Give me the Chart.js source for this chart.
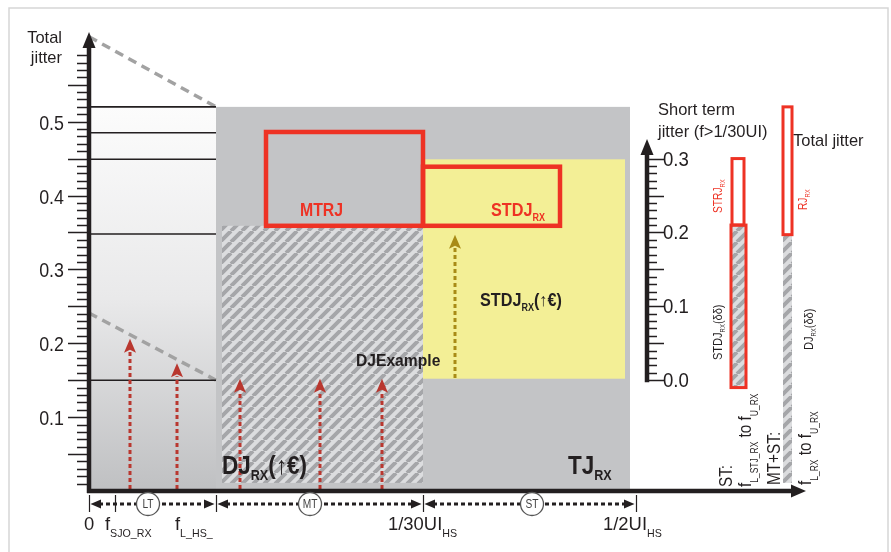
<!DOCTYPE html>
<html lang="en">
<head>
<meta charset="UTF-8">
<title>Jitter tolerance</title>
<script src="https://cdn.jsdelivr.net/npm/chart.js"></script>
<style>
  body { margin: 0; background: #fff; }
</style>
</head>
<body>
<canvas id="jitterChart" width="891" height="552"></canvas>
<script>
// frequency axis is in diagram units (0 = origin), jitter in UI
const bandNames = ['LT', 'MT', 'ST'];
const bandEdges = [0, 127, 334, 547];
const bandMarks = [59, 221, 443];
const freqTicks = [0, 26, 127, 334, 547];
const yTickLabels = [0.1, 0.2, 0.3, 0.4, 0.5];
const stTickLabels = [0.0, 0.1, 0.2, 0.3];

const ltLevels = [0.52, 0.485, 0.449, 0.348, 0.15];
const envelopeHigh = [0.615, 0.52];
const envelopeLow = [0.241, 0.15];

const tjArea = [127, 541, 0, 0.52];
const djArea = [133, 334, 0.011, 0.359];
const stdjArea = [334, 536, 0.152, 0.449];
const mtrjBox = [177, 334, 0.359, 0.486];
const stdjBox = [334, 471, 0.359, 0.439];

const ltArrowX = [41, 88];
const ltArrowTop = [0.206, 0.173];
const mtArrowX = [151, 231, 293];
const mtArrowTop = [0.152, 0.152, 0.152];
const stArrowX = [366];
const stArrowRange = [0.153, 0.347];

// right panel: short term scale and the total jitter column
const stAxisAt = 558;
const stdjBar = [642, 657, -0.01, 0.21];
const strjBar = [643, 655, 0.21, 0.3];
const tjColumn = [694, 703];
const djTotal = [0.011, 0.347];
const rjTotal = [0.347, 0.52];

const DARK = '#231f20';
const RED = '#ee3224';
const FONT = '"Liberation Sans", Arial, sans-serif';

function richText(ctx, x, y, parts, size, bold, color, align, subOff, sq) {
  const w = bold ? 'bold ' : '';
  const subSize = Math.round(size * 0.56);
  const off = size * (subOff || 0.25);
  const squeeze = sq || (bold ? 0.9 : 0.97);
  let total = 0;
  parts.forEach(p => {
    ctx.font = w + (p[1] ? subSize : size) + 'px ' + FONT;
    total += ctx.measureText(p[0]).width;
  });
  ctx.save();
  ctx.translate(x, y);
  ctx.scale(squeeze, 1);
  let cx = align === 'right' ? -total : align === 'center' ? -total / 2 : 0;
  ctx.fillStyle = color;
  ctx.textBaseline = 'alphabetic';
  ctx.textAlign = 'left';
  parts.forEach(p => {
    ctx.font = w + (p[1] ? subSize : size) + 'px ' + FONT;
    ctx.fillText(p[0], cx, p[1] ? off : 0);
    cx += ctx.measureText(p[0]).width;
  });
  ctx.restore();
}

function rotText(ctx, x, y, parts, size, color, subOff) {
  ctx.save();
  ctx.translate(x, y);
  ctx.rotate(-Math.PI / 2);
  richText(ctx, 0, 0, parts, size, false, color, 'left', subOff, 0.85);
  ctx.restore();
}

function hatch(ctx) {
  const s = 11;
  const c = document.createElement('canvas');
  c.width = s; c.height = s;
  const g = c.getContext('2d');
  g.fillStyle = '#dcdddf';
  g.fillRect(0, 0, s, s);
  g.strokeStyle = '#a5a6a9';
  g.lineWidth = 3.9;
  g.beginPath();
  for (let k = -s; k <= 2 * s; k += s) { g.moveTo(k, s); g.lineTo(k + s, 0); }
  g.stroke();
  return ctx.createPattern(c, 'repeat');
}

function dashedArrow(ctx, x, yFrom, yTip, color) {
  const head = 14, half = 6;
  ctx.save();
  ctx.strokeStyle = color;
  ctx.lineWidth = 3;
  ctx.setLineDash([4, 3]);
  ctx.beginPath(); ctx.moveTo(x, yFrom); ctx.lineTo(x, yTip + head - 1); ctx.stroke();
  ctx.setLineDash([]);
  ctx.fillStyle = color;
  ctx.beginPath();
  ctx.moveTo(x, yTip); ctx.lineTo(x - half, yTip + head); ctx.lineTo(x, yTip + head - 3); ctx.lineTo(x + half, yTip + head);
  ctx.closePath(); ctx.fill();
  ctx.restore();
}

function tri(ctx, pts) {
  ctx.beginPath();
  ctx.moveTo(pts[0], pts[1]); ctx.lineTo(pts[2], pts[3]); ctx.lineTo(pts[4], pts[5]);
  ctx.closePath(); ctx.fill();
}

const diagram = {
  id: 'diagram',
  beforeDatasetsDraw(chart) {
    const ctx = chart.ctx;
    const X = v => chart.scales.x.getPixelForValue(v);
    const Y = v => chart.scales.y.getPixelForValue(v);
    ctx.save();
    ctx.strokeStyle = '#d6d6d6'; ctx.lineWidth = 1.5;
    ctx.strokeRect(9, 8, 879, 570);

    // LT gradient
    const g = ctx.createLinearGradient(0, Y(ltLevels[0]), 0, Y(0));
    g.addColorStop(0, '#fcfcfc'); g.addColorStop(0.5, '#e9e9ea'); g.addColorStop(1, '#bfc0c2');
    ctx.fillStyle = g;
    ctx.fillRect(X(bandEdges[0]), Y(ltLevels[0]), X(bandEdges[1]) - X(bandEdges[0]), Y(0) - Y(ltLevels[0]));

    // total jitter area, short term area, hatched DJ
    ctx.fillStyle = '#c3c4c6';
    ctx.fillRect(X(tjArea[0]), Y(tjArea[3]), X(tjArea[1]) - X(tjArea[0]), Y(tjArea[2]) - Y(tjArea[3]));
    ctx.fillStyle = '#f3ef96';
    ctx.fillRect(X(stdjArea[0]), Y(stdjArea[3]), X(stdjArea[1]) - X(stdjArea[0]), Y(stdjArea[2]) - Y(stdjArea[3]));
    ctx.fillStyle = hatch(ctx);
    ctx.fillRect(X(djArea[0]), Y(djArea[3]), X(djArea[1]) - X(djArea[0]), Y(djArea[2]) - Y(djArea[3]));
    ctx.restore();
  },
  afterDatasetsDraw(chart) {
    const ctx = chart.ctx;
    const X = v => chart.scales.x.getPixelForValue(v);
    const Y = v => chart.scales.y.getPixelForValue(v);
    const Y2 = v => chart.scales.y2.getPixelForValue(v);
    ctx.save();

    // red boxes
    ctx.strokeStyle = RED; ctx.lineWidth = 4.5;
    [mtrjBox, stdjBox].forEach(b => {
      ctx.strokeRect(X(b[0]), Y(b[3]), X(b[1]) - X(b[0]), Y(b[2]) - Y(b[3]));
    });

    // arrows
    ltArrowX.forEach((v, i) => dashedArrow(ctx, X(v), Y(0) - 2, Y(ltArrowTop[i]), '#b9372f'));
    mtArrowX.forEach((v, i) => dashedArrow(ctx, X(v), Y(0) - 2, Y(mtArrowTop[i]), '#b9372f'));
    stArrowX.forEach(v => dashedArrow(ctx, X(v), Y(stArrowRange[0]), Y(stArrowRange[1]), '#a88b16'));

    // main axes
    ctx.strokeStyle = DARK; ctx.fillStyle = DARK; ctx.lineWidth = 4.5;
    ctx.beginPath();
    ctx.moveTo(X(0), Y(0) + 2); ctx.lineTo(X(0), Y(0.62) + 12);
    ctx.moveTo(X(0) - 2, Y(0)); ctx.lineTo(X(716) - 10, Y(0));
    ctx.stroke();
    tri(ctx, [X(0), Y(0.62) - 1, X(0) - 6.5, Y(0.62) + 15, X(0) + 6.5, Y(0.62) + 15]);
    tri(ctx, [X(716) + 1, Y(0), X(716) - 14, Y(0) - 6.5, X(716) - 14, Y(0) + 6.5]);

    ctx.lineWidth = 1.5;
    ctx.beginPath();
    for (let i = 1; i <= 59; i++) {
      const py = Math.round(Y(i / 100)) + 0.5;
      ctx.moveTo(X(0) - (i % 5 === 0 ? 21 : 12), py); ctx.lineTo(X(0), py);
    }
    ctx.stroke();
    yTickLabels.forEach(v => richText(ctx, X(0) - 25, Y(v) + 8, [[v.toFixed(1), 0]], 21, false, DARK, 'right', 0, 0.85));
    richText(ctx, 62, 43, [['Total', 0]], 17, false, DARK, 'right');
    richText(ctx, 62, 63, [['jitter', 0]], 17, false, DARK, 'right');

    // frequency band dimension lines
    const dy = Y(0) + 13;
    ctx.lineWidth = 1.2;
    ctx.beginPath();
    freqTicks.forEach(v => { ctx.moveTo(Math.round(X(v)) + 0.5, Y(0) + 4); ctx.lineTo(Math.round(X(v)) + 0.5, Y(0) + 21); });
    ctx.stroke();
    bandNames.forEach((name, i) => {
      const x0 = X(bandEdges[i]), x1 = X(bandEdges[i + 1]);
      ctx.save();
      ctx.lineWidth = 3; ctx.setLineDash([4, 3]);
      ctx.beginPath(); ctx.moveTo(x0 + 10, dy); ctx.lineTo(x1 - 10, dy); ctx.stroke();
      ctx.restore();
      tri(ctx, [x0 + 1.5, dy, x0 + 12, dy - 4.5, x0 + 12, dy + 4.5]);
      tri(ctx, [x1 - 1.5, dy, x1 - 12, dy - 4.5, x1 - 12, dy + 4.5]);
      const cx = X(bandMarks[i]);
      ctx.save();
      ctx.fillStyle = '#fff'; ctx.strokeStyle = '#555'; ctx.lineWidth = 1.3;
      ctx.beginPath(); ctx.arc(cx, dy, 11.5, 0, Math.PI * 2); ctx.fill(); ctx.stroke();
      ctx.restore();
      richText(ctx, cx, dy + 4, [[name, 0]], 12, false, '#444', 'center', 0, 0.85);
    });
    const lb = Y(0) + 39;
    richText(ctx, X(freqTicks[0]), lb, [['0', 0]], 19, false, DARK, 'center');
    richText(ctx, X(freqTicks[1]) - 10, lb, [['f', 0], ['SJO_RX', 1]], 19, false, DARK, 'left', 0.38);
    richText(ctx, X(freqTicks[2]) - 41, lb, [['f', 0], ['L_HS_', 1]], 19, false, DARK, 'left', 0.38);
    richText(ctx, X(freqTicks[3]) - 35, lb, [['1/30UI', 0], ['HS', 1]], 19, false, DARK, 'left', 0.38);
    richText(ctx, X(freqTicks[4]) - 33, lb, [['1/2UI', 0], ['HS', 1]], 19, false, DARK, 'left', 0.38);

    // region labels
    richText(ctx, 300, 216, [['MTRJ', 0]], 18, true, RED, 'left', 0, 0.88);
    richText(ctx, 491, 216, [['STDJ', 0], ['RX', 1]], 18, true, RED);
    richText(ctx, 480, 306, [['STDJ', 0], ['RX', 1], ['(\u2191\u20ac)', 0]], 18, true, DARK);
    richText(ctx, 356, 366, [['DJExample', 0]], 17, true, DARK, 'left', 0, 0.92);
    richText(ctx, 222, 474, [['DJ', 0], ['RX', 1], ['(\u2191\u20ac)', 0]], 25, true, DARK);
    richText(ctx, 568, 474, [['TJ', 0], ['RX', 1]], 25, true, DARK);

    // short term axis
    const sx = X(stAxisAt);
    ctx.lineWidth = 4.5;
    ctx.beginPath(); ctx.moveTo(sx, Y2(0) + 2); ctx.lineTo(sx, Y2(0.325) + 12); ctx.stroke();
    tri(ctx, [sx, Y2(0.325) - 1, sx - 6.5, Y2(0.325) + 15, sx + 6.5, Y2(0.325) + 15]);
    ctx.lineWidth = 1.5;
    ctx.beginPath();
    for (let i = 0; i <= 30; i++) {
      const py = Math.round(Y2(i / 100)) + 0.5;
      ctx.moveTo(sx, py); ctx.lineTo(sx + (i % 5 === 0 ? 17 : 10), py);
    }
    ctx.stroke();
    stTickLabels.forEach(v => richText(ctx, sx + 16, Y2(v) + 7, [[v.toFixed(1), 0]], 20, false, DARK, 'left', 0, 0.93));
    richText(ctx, 658, 115, [['Short term', 0]], 17, false, DARK);
    richText(ctx, 658, 137, [['jitter (f>1/30UI)', 0]], 17, false, DARK);
    richText(ctx, 793, 146, [['Total jitter', 0]], 17, false, DARK);

    // short term bars and total jitter column
    ctx.fillStyle = hatch(ctx);
    ctx.fillRect(X(stdjBar[0]), Y2(stdjBar[3]), X(stdjBar[1]) - X(stdjBar[0]), Y2(stdjBar[2]) - Y2(stdjBar[3]));
    ctx.fillRect(X(tjColumn[0]), Y(djTotal[1]), X(tjColumn[1]) - X(tjColumn[0]), Y(djTotal[0]) - Y(djTotal[1]));
    ctx.fillStyle = '#fff';
    ctx.fillRect(X(strjBar[0]), Y2(strjBar[3]), X(strjBar[1]) - X(strjBar[0]), Y2(strjBar[2]) - Y2(strjBar[3]));
    ctx.fillRect(X(tjColumn[0]), Y(rjTotal[1]), X(tjColumn[1]) - X(tjColumn[0]), Y(rjTotal[0]) - Y(rjTotal[1]));
    ctx.strokeStyle = RED; ctx.lineWidth = 3;
    ctx.strokeRect(X(stdjBar[0]), Y2(stdjBar[3]), X(stdjBar[1]) - X(stdjBar[0]), Y2(stdjBar[2]) - Y2(stdjBar[3]));
    ctx.strokeRect(X(strjBar[0]), Y2(strjBar[3]), X(strjBar[1]) - X(strjBar[0]), Y2(strjBar[2]) - Y2(strjBar[3]));
    ctx.strokeRect(X(tjColumn[0]), Y(rjTotal[1]), X(tjColumn[1]) - X(tjColumn[0]), Y(rjTotal[0]) - Y(rjTotal[1]));

    rotText(ctx, 722, 213, [['STRJ', 0], ['RX', 1]], 12, RED);
    rotText(ctx, 722, 360, [['STDJ', 0], ['RX', 1], ['(\u03b4\u03b4)', 0]], 13, DARK);
    rotText(ctx, 807, 210, [['RJ', 0], ['RX', 1]], 12, RED);
    rotText(ctx, 813, 350, [['DJ', 0], ['RX', 1], ['(\u03b4\u03b4)', 0]], 13, DARK);
    rotText(ctx, 732, 487, [['ST:', 0]], 18, DARK);
    rotText(ctx, 751, 487, [['f', 0], ['L_STJ_RX', 1], [' to f', 0], ['U_RX', 1]], 18, DARK, 0.38);
    rotText(ctx, 780, 485, [['MT+ST:', 0]], 18, DARK);
    rotText(ctx, 811, 485, [['f', 0], ['L_RX', 1], [' to f', 0], ['U_RX', 1]], 18, DARK, 0.38);
    ctx.restore();
  }
};

const levelSets = ltLevels.map(v => ({
  data: [{ x: bandEdges[0], y: v }, { x: bandEdges[1], y: v }],
  showLine: true, borderColor: DARK, borderWidth: 1.6, pointRadius: 0
}));
const envelopeSets = [envelopeHigh, envelopeLow].map(e => ({
  data: [{ x: bandEdges[0], y: e[0] }, { x: bandEdges[1], y: e[1] }],
  showLine: true, borderColor: '#a2a2a2', borderWidth: 3.5, borderDash: [9, 6], pointRadius: 0
}));

new Chart(document.getElementById('jitterChart'), {
  type: 'scatter',
  data: { datasets: levelSets.concat(envelopeSets) },
  options: {
    responsive: false,
    animation: false,
    events: [],
    layout: { padding: { left: 89, right: 86, top: 33, bottom: 61 } },
    plugins: { legend: { display: false }, tooltip: { enabled: false } },
    scales: {
      x: { type: 'linear', min: 0, max: 716, display: false },
      y: { type: 'linear', min: 0, max: 0.62, display: false },
      y2: { type: 'linear', axis: 'y', min: -0.15, max: 0.47, display: false }
    }
  },
  plugins: [diagram]
});
</script>
</body>
</html>
